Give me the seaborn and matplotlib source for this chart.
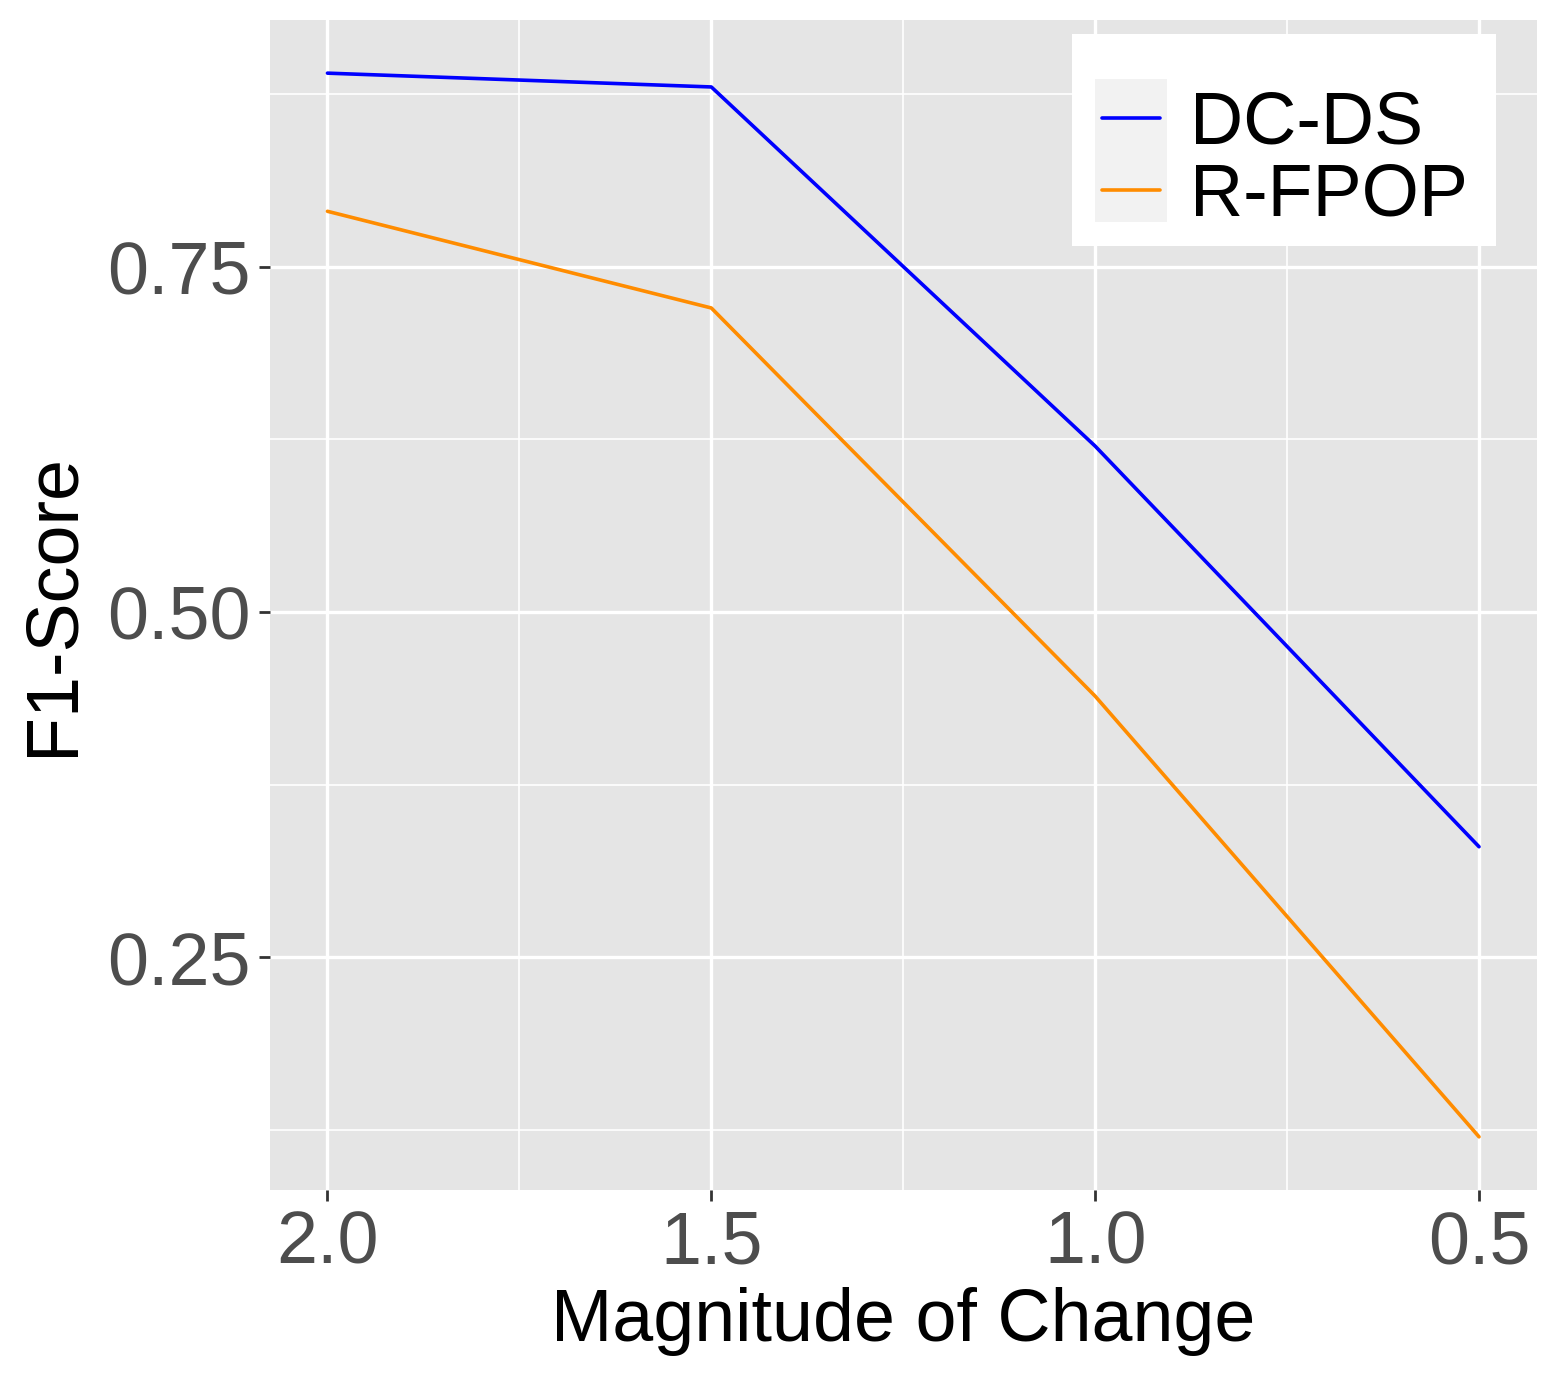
import numpy as np
import pandas as pd
import matplotlib
matplotlib.use('Agg')
import matplotlib.pyplot as plt
import seaborn as sns
from matplotlib.patches import Rectangle
from matplotlib.ticker import MultipleLocator

# values
magnitude = [2.0, 1.5, 1.0, 0.5]
dcds_f1 = [0.890, 0.880, 0.620, 0.330]
rfpop_f1 = [0.790, 0.720, 0.439, 0.120]
methods = ['DC-DS', 'R-FPOP']
colors = {'DC-DS': '#0000FF', 'R-FPOP': '#FF8C00'}

df = pd.DataFrame({
    'Magnitude': magnitude * 2,
    'F1': dcds_f1 + rfpop_f1,
    'Method': [methods[0]] * 4 + [methods[1]] * 4,
})

sns.set_theme(style='darkgrid')
plt.rcParams['font.family'] = ['Liberation Sans', 'DejaVu Sans']

FS = 53
fig = plt.figure(figsize=(15.6, 13.86), dpi=100)
ax = fig.add_axes([0.173, 0.1414, 0.812, 0.8442])
ax.set_facecolor('#E5E5E5')

sns.lineplot(data=df, x='Magnitude', y='F1', hue='Method', ax=ax,
             palette=colors, linewidth=2.6, legend=False)

# ggplot-like axes: reversed x, 5% expansion
ax.set_xlim(2.075, 0.425)
ax.set_ylim(0.0815, 0.9285)
ax.xaxis.set_minor_locator(MultipleLocator(0.25))
ax.yaxis.set_minor_locator(MultipleLocator(0.125))
ax.set_xticks([2.0, 1.5, 1.0, 0.5])
ax.set_xticklabels(['2.0', '1.5', '1.0', '0.5'])
ax.set_yticks([0.25, 0.50, 0.75])
ax.set_yticklabels(['0.25', '0.50', '0.75'])

ax.grid(which='major', color='white', linewidth=2.4)
ax.grid(which='minor', color='white', linewidth=1.2)
ax.set_axisbelow(True)
for s in ax.spines.values():
    s.set_visible(False)

ax.tick_params(axis='both', which='major', labelsize=FS, labelcolor='#4D4D4D',
               color='#333333', length=8, width=2, direction='out',
               bottom=True, left=True, pad=6)
ax.tick_params(which='minor', length=0)

ax.set_xlabel('Magnitude of Change', fontsize=FS, color='black', labelpad=6)
ax.set_ylabel('F1-Score', fontsize=FS, color='black', labelpad=14)

# legend: white box and grey key background like ggplot
fig.patches.append(Rectangle((1072 / 1560, 1 - 246 / 1386), 424 / 1560, 212 / 1386,
                             transform=fig.transFigure, facecolor='white',
                             edgecolor='none', zorder=3))
fig.patches.append(Rectangle((1095 / 1560, 1 - 222 / 1386), 72 / 1560, 143 / 1386,
                             transform=fig.transFigure, facecolor='#F2F2F2',
                             edgecolor='none', zorder=4))
handles = [plt.Line2D([], [], color=colors[m], linewidth=2.6) for m in methods]
leg = fig.legend(handles, methods, loc='upper left',
                 bbox_to_anchor=(1102 / 1560, 1 - 90 / 1386),
                 fontsize=FS, frameon=False, handlelength=0.79,
                 handletextpad=0.41, labelspacing=0.04, borderpad=0,
                 borderaxespad=0, labelcolor='black')
leg.set_zorder(5)

fig.savefig('out.png', dpi=100, facecolor='white')
